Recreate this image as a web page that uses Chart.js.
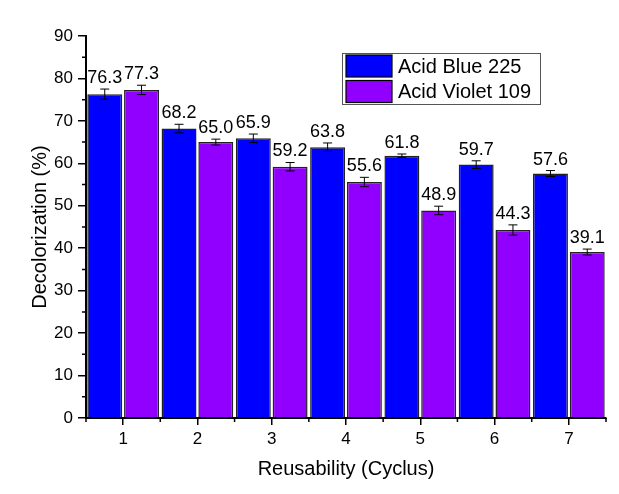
<!DOCTYPE html>
<html>
<head>
<meta charset="utf-8">
<script src="https://cdn.jsdelivr.net/npm/chart.js@4.4.1/dist/chart.umd.min.js"></script>
<style>
  html, body { margin: 0; padding: 0; background: #fff; }
  #wrap { width: 619px; height: 494px; }
</style>
</head>
<body>
<div id="wrap"><canvas id="chart" width="619" height="494"></canvas></div>
<script>
var cycles = ['1', '2', '3', '4', '5', '6', '7'];
var blueValues = [76.3, 68.2, 65.9, 63.8, 61.8, 59.7, 57.6];
var blueErrors = [1.2, 1.0, 1.0, 1.0, 0.4, 0.9, 0.7];
var violetValues = [77.3, 65.0, 59.2, 55.6, 48.9, 44.3, 39.1];
var violetErrors = [1.1, 0.7, 1.0, 1.1, 1.0, 1.2, 0.7];
var yTicks = [0, 10, 20, 30, 40, 50, 60, 70, 80, 90];

var FONT = '"Liberation Sans", Arial, sans-serif';

// error bars + value labels above each bar
var errorBarPlugin = {
    id: 'errorBars',
    afterDatasetsDraw: function (chart) {
        var ctx = chart.ctx;
        var y = chart.scales.y;
        chart.data.datasets.forEach(function (ds, di) {
            var meta = chart.getDatasetMeta(di);
            meta.data.forEach(function (bar, i) {
                var v = ds.data[i];
                var e = ds.errors[i];
                var top = y.getPixelForValue(v + e);
                var bot = y.getPixelForValue(v - e);
                ctx.save();
                ctx.strokeStyle = '#000';
                ctx.lineWidth = 1;
                ctx.beginPath();
                ctx.moveTo(bar.x, top); ctx.lineTo(bar.x, bot);
                ctx.moveTo(bar.x - 4.5, top); ctx.lineTo(bar.x + 4.5, top);
                ctx.moveTo(bar.x - 4.5, bot); ctx.lineTo(bar.x + 4.5, bot);
                ctx.stroke();
                ctx.fillStyle = '#000';
                ctx.font = '18px ' + FONT;
                ctx.textAlign = 'center';
                ctx.textBaseline = 'bottom';
                ctx.fillText(v.toFixed(1), bar.x, top - 2);
                ctx.restore();
            });
        });
    }
};

// minor ticks on both axes
var minorTickPlugin = {
    id: 'minorTicks',
    afterDraw: function (chart) {
        var ctx = chart.ctx;
        var x = chart.scales.x, y = chart.scales.y;
        var area = chart.chartArea;
        ctx.save();
        ctx.strokeStyle = '#000';
        ctx.lineWidth = 1.5;
        ctx.beginPath();
        for (var i = 0; i < yTicks.length - 1; i++) {
            var py = y.getPixelForValue((yTicks[i] + yTicks[i + 1]) / 2);
            ctx.moveTo(area.left - 4, py); ctx.lineTo(area.left, py);
        }
        for (var j = 0; j <= cycles.length; j++) {
            var px = x.getPixelForValue(j - 0.5);
            ctx.moveTo(px, area.bottom); ctx.lineTo(px, area.bottom + 4);
        }
        ctx.stroke();
        ctx.restore();
    }
};

// legend box inside the plot
var legendBoxPlugin = {
    id: 'legendBox',
    afterDraw: function (chart) {
        var ctx = chart.ctx;
        var bx = 342, by = 53, bw = 198, bh = 51;
        ctx.save();
        ctx.fillStyle = '#fff';
        ctx.fillRect(bx, by, bw, bh);
        ctx.strokeStyle = '#555';
        ctx.lineWidth = 1;
        ctx.strokeRect(bx + 0.5, by + 0.5, bw, bh);
        chart.data.datasets.forEach(function (ds, di) {
            var sy = by + 2 + di * 25.5;
            ctx.fillStyle = ds.backgroundColor;
            ctx.fillRect(bx + 4, sy, 46, 22);
            ctx.strokeStyle = '#000';
            ctx.lineWidth = 1.2;
            ctx.strokeRect(bx + 4, sy, 46, 22);
            ctx.fillStyle = '#000';
            ctx.font = '20px ' + FONT;
            ctx.textAlign = 'left';
            ctx.textBaseline = 'middle';
            ctx.fillText(ds.label, bx + 56, sy + 12);
        });
        ctx.restore();
    }
};

new Chart(document.getElementById('chart').getContext('2d'), {
    type: 'bar',
    data: {
        labels: cycles,
        datasets: [
            {
                label: 'Acid Blue 225',
                data: blueValues,
                errors: blueErrors,
                backgroundColor: '#0000ff',
                borderColor: '#222',
                borderWidth: 1.5,
                categoryPercentage: 0.99,
                barPercentage: 0.95
            },
            {
                label: 'Acid Violet 109',
                data: violetValues,
                errors: violetErrors,
                backgroundColor: '#9100ff',
                borderColor: '#222',
                borderWidth: 1.5,
                categoryPercentage: 0.99,
                barPercentage: 0.95
            }
        ]
    },
    options: {
        responsive: false,
        animation: false,
        layout: { padding: { left: 0, right: 13, top: 36, bottom: 0 } },
        plugins: {
            legend: { display: false },
            tooltip: { enabled: false }
        },
        scales: {
            x: {
                grid: { display: true, drawOnChartArea: false, offset: false, color: '#000', lineWidth: 1.5, tickLength: 7 },
                border: { display: true, color: '#000', width: 2 },
                ticks: { color: '#000', font: { family: FONT, size: 17 }, padding: 4 },
                title: { display: true, text: 'Reusability (Cyclus)', color: '#000', font: { family: FONT, size: 20 }, padding: { top: 4, bottom: 13 } },
                afterFit: function (s) { s.height = 76; }
            },
            y: {
                min: 0,
                max: 90,
                afterBuildTicks: function (s) { s.ticks = yTicks.map(function (v) { return { value: v }; }); },
                grid: { display: true, drawOnChartArea: false, color: '#000', lineWidth: 1.5, tickLength: 8 },
                border: { display: true, color: '#000', width: 2 },
                ticks: { color: '#000', font: { family: FONT, size: 17 }, padding: 5 },
                title: { display: true, text: 'Decolorization (%)', color: '#000', font: { family: FONT, size: 20 }, padding: { top: 28, bottom: 6 } },
                afterFit: function (s) { s.width = 86; }
            }
        }
    },
    plugins: [errorBarPlugin, minorTickPlugin, legendBoxPlugin]
});
</script>
</body>
</html>
